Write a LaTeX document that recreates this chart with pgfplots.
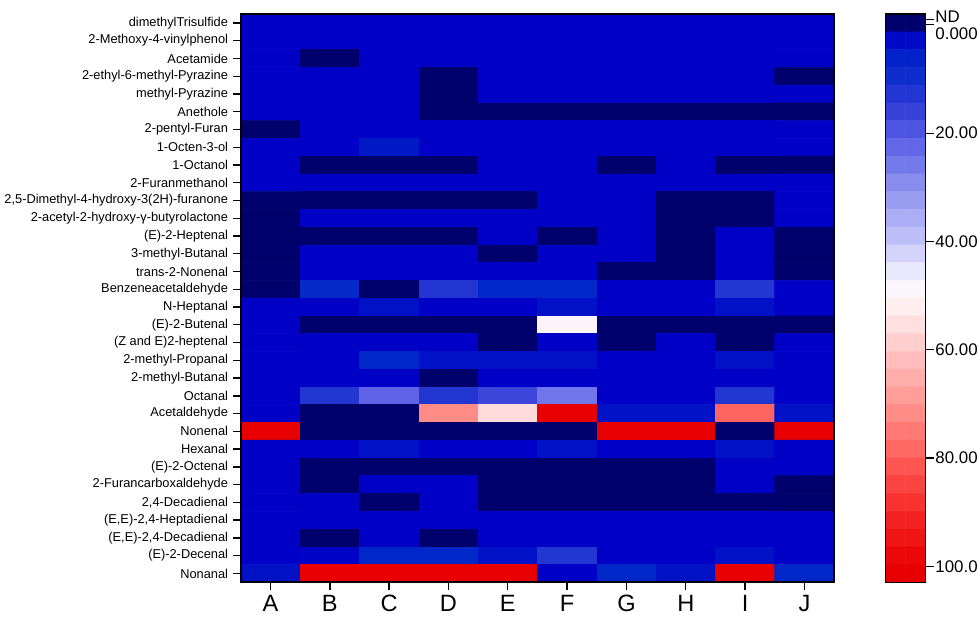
\documentclass[border=0pt]{standalone}
\usepackage{pgfplots}
\pgfplotsset{compat=1.18}
\usepackage{fontspec}
\setmainfont{Liberation Sans}

% x: column A..J = 0..9 ; y: row 1 (top) .. 32 (bottom) ; c: value, -3 = ND
\pgfplotstableread{
x y c
0 1 0
1 1 0
2 1 0
3 1 0
4 1 0
5 1 0
6 1 0
7 1 0
8 1 0
9 1 0
0 2 0
1 2 0
2 2 0
3 2 0
4 2 0
5 2 0
6 2 0
7 2 0
8 2 0
9 2 0
0 3 0
1 3 -3
2 3 0
3 3 0
4 3 0
5 3 0
6 3 0
7 3 0
8 3 0
9 3 0
0 4 0
1 4 0
2 4 0
3 4 -3
4 4 0
5 4 0
6 4 0
7 4 0
8 4 0
9 4 -3
0 5 0
1 5 0
2 5 0
3 5 -3
4 5 0
5 5 0
6 5 0
7 5 0
8 5 0
9 5 0
0 6 0
1 6 0
2 6 0
3 6 -3
4 6 -3
5 6 -3
6 6 -3
7 6 -3
8 6 -3
9 6 -3
0 7 -3
1 7 0
2 7 0
3 7 0
4 7 0
5 7 0
6 7 0
7 7 0
8 7 0
9 7 0
0 8 0
1 8 0
2 8 5
3 8 0
4 8 0
5 8 0
6 8 0
7 8 0
8 8 0
9 8 0
0 9 0
1 9 -3
2 9 -3
3 9 -3
4 9 0
5 9 0
6 9 -3
7 9 0
8 9 -3
9 9 -3
0 10 0
1 10 0
2 10 0
3 10 0
4 10 0
5 10 0
6 10 0
7 10 0
8 10 0
9 10 0
0 11 -3
1 11 -3
2 11 -3
3 11 -3
4 11 -3
5 11 0
6 11 0
7 11 -3
8 11 -3
9 11 0
0 12 -3
1 12 0
2 12 0
3 12 0
4 12 0
5 12 0
6 12 0
7 12 -3
8 12 -3
9 12 0
0 13 -3
1 13 -3
2 13 -3
3 13 -3
4 13 0
5 13 -3
6 13 0
7 13 -3
8 13 0
9 13 -3
0 14 -3
1 14 0
2 14 0
3 14 0
4 14 -3
5 14 0
6 14 0
7 14 -3
8 14 0
9 14 -3
0 15 -3
1 15 0
2 15 0
3 15 0
4 15 0
5 15 0
6 15 -3
7 15 -3
8 15 0
9 15 -3
0 16 -3
1 16 8
2 16 -3
3 16 13
4 16 7
5 16 7
6 16 0
7 16 0
8 16 13
9 16 0
0 17 0
1 17 0
2 17 4
3 17 0
4 17 0
5 17 4
6 17 0
7 17 0
8 17 4
9 17 0
0 18 0
1 18 -3
2 18 -3
3 18 -3
4 18 -3
5 18 50
6 18 -3
7 18 -3
8 18 -3
9 18 -3
0 19 0
1 19 0
2 19 0
3 19 0
4 19 -3
5 19 0
6 19 -3
7 19 0
8 19 -3
9 19 0
0 20 0
1 20 0
2 20 7
3 20 4
4 20 4
5 20 4
6 20 0
7 20 0
8 20 4
9 20 0
0 21 0
1 21 0
2 21 0
3 21 -3
4 21 0
5 21 0
6 21 0
7 21 0
8 21 0
9 21 0
0 22 0
1 22 13
2 22 22
3 22 13
4 22 17
5 22 25
6 22 0
7 22 0
8 22 13
9 22 0
0 23 0
1 23 -3
2 23 -3
3 23 72
4 23 56
5 23 100
6 23 4
7 23 4
8 23 79
9 23 4
0 24 100
1 24 -3
2 24 -3
3 24 -3
4 24 -3
5 24 -3
6 24 100
7 24 100
8 24 -3
9 24 100
0 25 0
1 25 0
2 25 4
3 25 0
4 25 0
5 25 4
6 25 0
7 25 0
8 25 4
9 25 0
0 26 0
1 26 -3
2 26 -3
3 26 -3
4 26 -3
5 26 -3
6 26 -3
7 26 -3
8 26 0
9 26 0
0 27 0
1 27 -3
2 27 0
3 27 0
4 27 -3
5 27 -3
6 27 -3
7 27 -3
8 27 0
9 27 -3
0 28 0
1 28 0
2 28 -3
3 28 0
4 28 -3
5 28 -3
6 28 -3
7 28 -3
8 28 -3
9 28 -3
0 29 0
1 29 0
2 29 0
3 29 0
4 29 0
5 29 0
6 29 0
7 29 0
8 29 0
9 29 0
0 30 0
1 30 -3
2 30 0
3 30 -3
4 30 0
5 30 0
6 30 0
7 30 0
8 30 0
9 30 0
0 31 0
1 31 1
2 31 7
3 31 7
4 31 4
5 31 13
6 31 0
7 31 0
8 31 4
9 31 0
0 32 4
1 32 100
2 32 100
3 32 100
4 32 100
5 32 0
6 32 7
7 32 4
8 32 100
9 32 7
}\heatdata

% colour scale bands (ND band first, then steps of the scale)
\pgfplotstableread{
x y c
0 -0.36 -3
1 -0.36 -3
0 2.92 2.92
1 2.92 2.92
0 6.2 6.2
1 6.2 6.2
0 9.48 9.48
1 9.48 9.48
0 12.76 12.76
1 12.76 12.76
0 16.04 16.04
1 16.04 16.04
0 19.32 19.32
1 19.32 19.32
0 22.6 22.6
1 22.6 22.6
0 25.88 25.88
1 25.88 25.88
0 29.16 29.16
1 29.16 29.16
0 32.44 32.44
1 32.44 32.44
0 35.72 35.72
1 35.72 35.72
0 39.0 39.0
1 39.0 39.0
0 42.28 42.28
1 42.28 42.28
0 45.56 45.56
1 45.56 45.56
0 48.84 48.84
1 48.84 48.84
0 52.12 52.12
1 52.12 52.12
0 55.4 55.4
1 55.4 55.4
0 58.68 58.68
1 58.68 58.68
0 61.96 61.96
1 61.96 61.96
0 65.24 65.24
1 65.24 65.24
0 68.52 68.52
1 68.52 68.52
0 71.8 71.8
1 71.8 71.8
0 75.08 75.08
1 75.08 75.08
0 78.36 78.36
1 78.36 78.36
0 81.64 81.64
1 81.64 81.64
0 84.92 84.92
1 84.92 84.92
0 88.2 88.2
1 88.2 88.2
0 91.48 91.48
1 91.48 91.48
0 94.76 94.76
1 94.76 94.76
0 98.04 98.04
1 98.04 98.04
0 101.32 101.32
1 101.32 101.32
}\scaledata

\pgfplotsset{
  colormap={ndbluered}{
    rgb255(0mm)=(0,0,108);
    rgb255(26mm)=(0,0,108);
    rgb255(32mm)=(0,0,198);
    rgb255(62mm)=(0,10,198);
    rgb255(102mm)=(0,40,200);
    rgb255(152mm)=(30,50,208);
    rgb255(202mm)=(60,70,218);
    rgb255(252mm)=(95,100,230);
    rgb255(332mm)=(140,145,238);
    rgb255(432mm)=(195,195,248);
    rgb255(512mm)=(250,248,255);
    rgb255(552mm)=(255,240,240);
    rgb255(632mm)=(255,200,200);
    rgb255(732mm)=(255,150,145);
    rgb255(832mm)=(255,95,90);
    rgb255(932mm)=(245,40,40);
    rgb255(1032mm)=(232,0,0);
    rgb255(1062mm)=(232,0,0)
  }
}

\begin{document}
\begin{tikzpicture}
\begin{axis}[
  name=main,
  scale only axis,
  width=440pt, height=421.5pt,
  xmin=-0.5, xmax=9.5, ymin=0.5, ymax=32.5,
  y dir=reverse,
  colormap name=ndbluered,
  point meta min=-3.2, point meta max=103,
  axis line style={line width=1.4pt},
  axis on top,
  tick align=outside,
  tick style={black, line width=1pt},
  xtick={0,...,9},
  xticklabels={A,B,C,D,E,F,G,H,I,J},
  xticklabel style={font=\fontsize{17.5}{17.5}\selectfont},
  xtick pos=bottom,
  major tick length=6pt,
  ytick={1,...,32},
  ytick pos=left,
  yticklabel style={font=\fontsize{9.5}{9.7}\selectfont},
  yticklabels={
    {dimethylTrisulfide},
    {2-Methoxy-4-vinylphenol},
    {Acetamide},
    {2-ethyl-6-methyl-Pyrazine},
    {methyl-Pyrazine},
    {Anethole},
    {2-pentyl-Furan},
    {1-Octen-3-ol},
    {1-Octanol},
    {2-Furanmethanol},
    {2,5-Dimethyl-4-hydroxy-3(2H)-furanone},
    {2-acetyl-2-hydroxy-γ-butyrolactone},
    {(E)-2-Heptenal},
    {3-methyl-Butanal},
    {trans-2-Nonenal},
    {Benzeneacetaldehyde},
    {N-Heptanal},
    {(E)-2-Butenal},
    {(Z and E)2-heptenal},
    {2-methyl-Propanal},
    {2-methyl-Butanal},
    {Octanal},
    {Acetaldehyde},
    {Nonenal},
    {Hexanal},
    {(E)-2-Octenal},
    {2-Furancarboxaldehyde},
    {2,4-Decadienal},
    {(E,E)-2,4-Heptadienal},
    {(E,E)-2,4-Decadienal},
    {(E)-2-Decenal},
    {Nonanal}},
]
\addplot[matrix plot*, mesh/cols=10, point meta=explicit] table[x=x, y=y, meta=c] {\heatdata};
\end{axis}

\begin{axis}[
  at={(main.north east)}, anchor=north west, xshift=38pt,
  scale only axis,
  width=30pt, height=421.5pt,
  xmin=-0.5, xmax=1.5, ymin=-2.0, ymax=102.96,
  y dir=reverse,
  colormap name=ndbluered,
  point meta min=-3.2, point meta max=103,
  axis on top,
  axis line style={line width=0.8pt},
  xtick=\empty,
  ytick pos=right,
  tick align=outside,
  major tick length=6pt,
  tick style={black, line width=0.8pt},
  ytick={-1,0,20,40,60,80,100},
  yticklabels={\raisebox{-2.4pt}[0pt][0pt]{ND},\raisebox{-10.8pt}[0pt][0pt]{0.000},20.00,40.00,60.00,80.00,100.0},
  yticklabel style={font=\fontsize{12.5}{12.5}\selectfont, inner sep=1pt},
]
\addplot[matrix plot*, mesh/cols=2, point meta=explicit] table[x=x, y=y, meta=c] {\scaledata};
\end{axis}
\path (main.north) ++(0,10.4pt);
\path (main.south) ++(0,-29.5pt);
\end{tikzpicture}
\end{document}
